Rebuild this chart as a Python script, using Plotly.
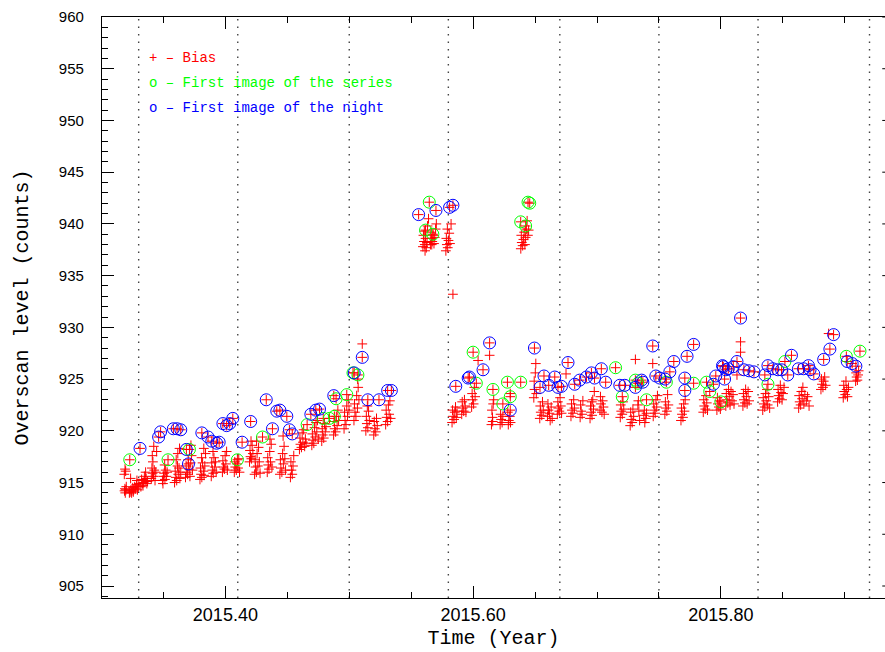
import plotly.graph_objects as go

# ---------------------------------------------------------------
# Overscan level of bias frames (time in decimal year, level in counts)
# ---------------------------------------------------------------

# Bias frames that are neither the first of a series nor of a night
bias_may = [
    (2015.3186, 914.2), (2015.3192, 914.0), (2015.3189, 914.4), (2015.3197, 914.3), (2015.3184, 915.8),
    (2015.3195, 916.1), (2015.3190, 916.3), (2015.3200, 914.6),
    (2015.3225, 914.0), (2015.3238, 914.3), (2015.3231, 914.1), (2015.3246, 914.2), (2015.3252, 914.5),
    (2015.3243, 914.0), (2015.3260, 914.3), (2015.3268, 914.6), (2015.3257, 914.1), (2015.3275, 914.4),
    (2015.3282, 914.8), (2015.3290, 914.3), (2015.3297, 914.6), (2015.3286, 915.2), (2015.3302, 914.9),
    (2015.3235, 915.4),
    (2015.3318, 914.6), (2015.3330, 914.9), (2015.3324, 915.3), (2015.3340, 915.0), (2015.3346, 915.6),
    (2015.3335, 914.7), (2015.3352, 915.2), (2015.3360, 915.4), (2015.3366, 914.9), (2015.3356, 916.0),
    (2015.3372, 915.1),
    (2015.3402, 915.4), (2015.3412, 915.9), (2015.3407, 916.4), (2015.3420, 915.6), (2015.3415, 917.0),
    (2015.3426, 916.2), (2015.3410, 917.6), (2015.3432, 915.2), (2015.3438, 916.0), (2015.3445, 918.0),
    (2015.3422, 918.5),
    (2015.3492, 915.2), (2015.3500, 915.6), (2015.3496, 914.9), (2015.3506, 915.9), (2015.3512, 915.3),
    (2015.3518, 916.2), (2015.3510, 916.7), (2015.3524, 915.6), (2015.3530, 916.0),
    (2015.3590, 915.0), (2015.3600, 915.5), (2015.3595, 916.1), (2015.3607, 915.2), (2015.3614, 916.6),
    (2015.3603, 917.2), (2015.3620, 915.8), (2015.3626, 916.4), (2015.3633, 915.4), (2015.3616, 917.8),
    (2015.3640, 916.0), (2015.3630, 918.3),
    (2015.3678, 915.5), (2015.3688, 916.0), (2015.3683, 916.6), (2015.3695, 915.8), (2015.3700, 917.2),
    (2015.3708, 916.3), (2015.3714, 915.6), (2015.3720, 916.9), (2015.3727, 917.6), (2015.3734, 916.2),
    (2015.3722, 918.6),
    (2015.3795, 915.3), (2015.3804, 915.8), (2015.3799, 916.4), (2015.3810, 915.5), (2015.3816, 916.9),
    (2015.3808, 917.4), (2015.3822, 916.1), (2015.3828, 915.7), (2015.3834, 916.6), (2015.3840, 917.8),
    (2015.3826, 918.3),
    (2015.3886, 915.6), (2015.3895, 916.2), (2015.3890, 916.9), (2015.3902, 915.9), (2015.3908, 917.4),
    (2015.3900, 918.0), (2015.3914, 916.5), (2015.3920, 917.0), (2015.3926, 916.0),
    (2015.3976, 916.0), (2015.3985, 916.5), (2015.3980, 917.1), (2015.3992, 916.3), (2015.3998, 917.6),
    (2015.4004, 916.8), (2015.4010, 918.0), (2015.4016, 916.2),
    (2015.4072, 916.0), (2015.4080, 916.5), (2015.4076, 917.0), (2015.4088, 916.2), (2015.4094, 916.8),
    (2015.4102, 916.4), (2015.4108, 917.3), (2015.4114, 916.0),
    (2015.4195, 917.0), (2015.4203, 917.5), (2015.4199, 918.1), (2015.4210, 917.3), (2015.4216, 918.6),
    (2015.4222, 917.8), (2015.4207, 919.0),
]

bias_jun = [
    (2015.4236, 915.8), (2015.4244, 916.5), (2015.4240, 917.2), (2015.4250, 916.0), (2015.4256, 917.8),
    (2015.4262, 916.6), (2015.4268, 918.4), (2015.4274, 917.0), (2015.4252, 919.0), (2015.4280, 915.9),
    (2015.4338, 916.0), (2015.4346, 916.7), (2015.4342, 917.4), (2015.4352, 916.3), (2015.4358, 918.0),
    (2015.4364, 917.0), (2015.4370, 918.7), (2015.4376, 916.5), (2015.4360, 919.2),
    (2015.4440, 915.8), (2015.4448, 916.4), (2015.4444, 917.2), (2015.4456, 916.0), (2015.4462, 917.8),
    (2015.4468, 916.8), (2015.4474, 918.5), (2015.4480, 917.3), (2015.4466, 919.5), (2015.4486, 916.2),
    (2015.4525, 915.5), (2015.4533, 916.2), (2015.4529, 917.0), (2015.4540, 915.8), (2015.4546, 916.6),
    (2015.4552, 917.6),
    (2015.4598, 918.2), (2015.4606, 918.7), (2015.4602, 919.3), (2015.4614, 918.4), (2015.4620, 919.8),
    (2015.4626, 918.9), (2015.4632, 920.1), (2015.4640, 918.5), (2015.4646, 919.2), (2015.4652, 918.8),
    (2015.4698, 918.6), (2015.4706, 919.1), (2015.4702, 919.7), (2015.4714, 918.8), (2015.4720, 920.3),
    (2015.4726, 919.4), (2015.4732, 920.8), (2015.4738, 919.9), (2015.4744, 921.0), (2015.4750, 919.2),
    (2015.4778, 919.0), (2015.4786, 919.6), (2015.4782, 920.2), (2015.4794, 919.3), (2015.4800, 920.7),
    (2015.4806, 919.9), (2015.4812, 920.4),
    (2015.4874, 919.6), (2015.4882, 920.2), (2015.4878, 920.9), (2015.4890, 919.9), (2015.4896, 921.4),
    (2015.4902, 920.5), (2015.4908, 922.0), (2015.4914, 921.0),
    (2015.4958, 920.2), (2015.4966, 921.0), (2015.4962, 921.8), (2015.4974, 920.6), (2015.4980, 922.4),
    (2015.4986, 921.4), (2015.4992, 923.0), (2015.4998, 922.0),
]

bias_jul = [
    (2015.5038, 921.0), (2015.5046, 921.8), (2015.5042, 922.6), (2015.5054, 921.4), (2015.5060, 923.4),
    (2015.5066, 922.2), (2015.5072, 924.2), (2015.5078, 923.0), (2015.5068, 925.0), (2015.5105, 928.4),
    (2015.5134, 920.0), (2015.5142, 920.7), (2015.5138, 921.4), (2015.5150, 920.3), (2015.5156, 921.9),
    (2015.5162, 921.0), (2015.5146, 922.4),
    (2015.5198, 919.6), (2015.5206, 920.2), (2015.5202, 920.9), (2015.5214, 919.9), (2015.5220, 921.2),
    (2015.5226, 920.5),
    (2015.5294, 920.6), (2015.5302, 921.3), (2015.5298, 922.0), (2015.5310, 920.9), (2015.5316, 922.5),
    (2015.5322, 921.6), (2015.5328, 922.9), (2015.5334, 921.2),
    (2015.5595, 937.8), (2015.5603, 938.3), (2015.5599, 938.9), (2015.5610, 938.0), (2015.5616, 938.6),
    (2015.5622, 937.7), (2015.5606, 939.3), (2015.5628, 938.2), (2015.5632, 939.8), (2015.5640, 940.5),
    (2015.5612, 937.4),
    (2015.5655, 938.0), (2015.5663, 938.6), (2015.5659, 939.2), (2015.5670, 938.3), (2015.5677, 938.9),
    (2015.5684, 938.1), (2015.5690, 938.7), (2015.5697, 939.5), (2015.5703, 940.0), (2015.5666, 938.0),
    (2015.5780, 937.4), (2015.5788, 938.0), (2015.5784, 938.6), (2015.5795, 937.7), (2015.5801, 938.4),
    (2015.5807, 939.1), (2015.5792, 939.5), (2015.5813, 938.1), (2015.5822, 940.0), (2015.5837, 933.2),
]

bias_aug = [
    (2015.5830, 920.8), (2015.5838, 921.4), (2015.5834, 922.0), (2015.5846, 921.1), (2015.5852, 921.8),
    (2015.5858, 922.3), (2015.5864, 921.3), (2015.5870, 921.9),
    (2015.5908, 921.6), (2015.5916, 922.2), (2015.5912, 922.8), (2015.5924, 921.9), (2015.5930, 923.0),
    (2015.5936, 922.4), (2015.5942, 921.8),
    (2015.5988, 922.3), (2015.5996, 923.0), (2015.5992, 923.6), (2015.6004, 922.6), (2015.6010, 924.2),
    (2015.6016, 923.3), (2015.6040, 926.8),
    (2015.6148, 920.6), (2015.6156, 921.3), (2015.6152, 922.0), (2015.6162, 922.6), (2015.6166, 923.0),
    (2015.6158, 920.9), (2015.6133, 927.3),
    (2015.6218, 920.6), (2015.6226, 921.1), (2015.6222, 921.6), (2015.6234, 920.8), (2015.6240, 921.4),
    (2015.6280, 921.8), (2015.6288, 921.0), (2015.6284, 920.6), (2015.6296, 921.4), (2015.6302, 920.8),
    (2015.6300, 923.6),
    (2015.6385, 937.6), (2015.6393, 938.2), (2015.6389, 938.9), (2015.6400, 937.9), (2015.6406, 938.5),
    (2015.6412, 939.2), (2015.6418, 938.0), (2015.6424, 938.7), (2015.6430, 939.5), (2015.6436, 940.3),
    (2015.6442, 938.9), (2015.6448, 939.4),
    (2015.6490, 923.2), (2015.6496, 924.0), (2015.6493, 924.8), (2015.6502, 925.6), (2015.6506, 926.5),
    (2015.6510, 923.6),
    (2015.6538, 921.2), (2015.6546, 921.8), (2015.6542, 922.4), (2015.6554, 921.5), (2015.6560, 922.8),
    (2015.6566, 922.0), (2015.6600, 921.4), (2015.6608, 922.0), (2015.6604, 922.6), (2015.6616, 921.7),
    (2015.6622, 921.0), (2015.6630, 922.3), (2015.6638, 921.2),
]

bias_sep = [
    (2015.6680, 921.6), (2015.6688, 922.2), (2015.6684, 922.8), (2015.6696, 921.9), (2015.6702, 923.2),
    (2015.6708, 922.4), (2015.6714, 921.7),
    (2015.6790, 921.4), (2015.6798, 922.0), (2015.6794, 922.6), (2015.6806, 921.7), (2015.6812, 923.0),
    (2015.6818, 922.2), (2015.6750, 925.5), (2015.6864, 921.3), (2015.6872, 921.9), (2015.6868, 922.5),
    (2015.6880, 921.6), (2015.6886, 922.9),
    (2015.6944, 921.2), (2015.6952, 921.8), (2015.6948, 922.4), (2015.6960, 921.5), (2015.6966, 923.0),
    (2015.6972, 922.1), (2015.6978, 923.8), (2015.6958, 922.8),
    (2015.7024, 922.0), (2015.7032, 922.6), (2015.7028, 923.3), (2015.7040, 921.8), (2015.7046, 922.9),
    (2015.7052, 922.3), (2015.7058, 921.6),
    (2015.7188, 921.3), (2015.7196, 921.9), (2015.7192, 922.5), (2015.7204, 921.6), (2015.7210, 922.8),
    (2015.7216, 922.1),
    (2015.7268, 920.5), (2015.7276, 921.1), (2015.7272, 921.8), (2015.7284, 920.8), (2015.7290, 922.1),
    (2015.7296, 921.4), (2015.7330, 922.5), (2015.7338, 921.9), (2015.7334, 922.9), (2015.7344, 921.0),
    (2015.7378, 921.5), (2015.7386, 920.8), (2015.7382, 922.0), (2015.7394, 921.2), (2015.7400, 921.7),
    (2015.7310, 926.9),
]

bias_oct = [
    (2015.7454, 921.4), (2015.7462, 922.0), (2015.7458, 922.6), (2015.7470, 921.7), (2015.7476, 923.0),
    (2015.7482, 922.3), (2015.7488, 923.4), (2015.7450, 926.5),
    (2015.7548, 921.6), (2015.7556, 922.2), (2015.7552, 922.8), (2015.7564, 921.9), (2015.7570, 923.5),
    (2015.7576, 922.5),
    (2015.7678, 921.0), (2015.7686, 921.6), (2015.7682, 922.2), (2015.7694, 921.3), (2015.7700, 922.6),
    (2015.7706, 921.9), (2015.7712, 923.0),
    (2015.7858, 921.8), (2015.7866, 922.4), (2015.7862, 923.0), (2015.7874, 922.1), (2015.7880, 923.4),
    (2015.7886, 922.7), (2015.7892, 922.0),
    (2015.7968, 922.0), (2015.7976, 922.6), (2015.7972, 923.2), (2015.7984, 922.3), (2015.7990, 922.9),
    (2015.7996, 922.1),
    (2015.8040, 922.4), (2015.8048, 923.0), (2015.8044, 923.6), (2015.8056, 922.7), (2015.8062, 924.0),
    (2015.8068, 923.3), (2015.8074, 922.5), (2015.8082, 923.8), (2015.8090, 922.9), (2015.8098, 923.5),
    (2015.8106, 922.6), (2015.8130, 925.4), (2015.8159, 928.6), (2015.8159, 927.6),
    (2015.8178, 922.4), (2015.8186, 923.0), (2015.8182, 923.6), (2015.8194, 922.7), (2015.8200, 924.0),
    (2015.8206, 923.3), (2015.8212, 922.6), (2015.8220, 923.8), (2015.8228, 922.9),
]

bias_nov = [
    (2015.8338, 922.0), (2015.8346, 922.6), (2015.8342, 923.2), (2015.8354, 922.3), (2015.8360, 923.6),
    (2015.8366, 922.9), (2015.8372, 924.0), (2015.8378, 922.5), (2015.8386, 923.3), (2015.8394, 922.2),
    (2015.8458, 922.8), (2015.8466, 923.4), (2015.8462, 924.0), (2015.8474, 923.1), (2015.8480, 924.4),
    (2015.8486, 923.7), (2015.8494, 923.0), (2015.8502, 923.6), (2015.8510, 924.2),
    (2015.8628, 922.2), (2015.8636, 922.8), (2015.8632, 923.4), (2015.8644, 922.5), (2015.8650, 923.8),
    (2015.8656, 923.1), (2015.8662, 924.2), (2015.8670, 922.6), (2015.8678, 923.5), (2015.8690, 922.9),
    (2015.8700, 923.3), (2015.8712, 922.4),
    (2015.8808, 924.0), (2015.8816, 924.5), (2015.8812, 925.0), (2015.8824, 924.2), (2015.8830, 924.8),
    (2015.8838, 925.2), (2015.8846, 924.4), (2015.8870, 929.4),
    (2015.8988, 923.2), (2015.8996, 923.8), (2015.8992, 924.4), (2015.9004, 923.5), (2015.9010, 924.8),
    (2015.9016, 924.0), (2015.9022, 923.3), (2015.9030, 924.2),
    (2015.9088, 924.8), (2015.9096, 925.2), (2015.9092, 925.6), (2015.9102, 924.9), (2015.9108, 925.4),
    (2015.9112, 925.8),
]

# First bias frame of each series
first_of_series = [
    (2015.3228, 917.2), (2015.3537, 917.2), (2015.3710, 918.2), (2015.4097, 917.2),
    (2015.4300, 919.4), (2015.4660, 920.6), (2015.4790, 921.2), (2015.4840, 921.2), (2015.4880, 921.4),
    (2015.4894, 923.1), (2015.4980, 923.5), (2015.5030, 925.6), (2015.5070, 925.4),
    (2015.5646, 942.1), (2015.5616, 939.4), (2015.5675, 939.0), (2015.6443, 942.1), (2015.6457, 942.0),
    (2015.6384, 940.2), (2015.6424, 939.8),
    (2015.6026, 924.6), (2015.6000, 927.6), (2015.6160, 924.0), (2015.6277, 924.7), (2015.6384, 924.7),
    (2015.6300, 923.3), (2015.6240, 922.6),
    (2015.7150, 926.1), (2015.7204, 923.3), (2015.7310, 924.9), (2015.7330, 924.6), (2015.7400, 923.0),
    (2015.7560, 924.7), (2015.7780, 924.6), (2015.7884, 924.7), (2015.7910, 923.8), (2015.8000, 922.8),
    (2015.8380, 924.5), (2015.8517, 926.7), (2015.9013, 927.2), (2015.9123, 927.7),
]

# First bias frame of each night
first_of_night = [
    (2015.3311, 918.3), (2015.3461, 919.4), (2015.3477, 919.9), (2015.3580, 920.2), (2015.3610, 920.2),
    (2015.3640, 920.1), (2015.3685, 918.2), (2015.3702, 916.8), (2015.3810, 919.8), (2015.3860, 919.4),
    (2015.3890, 919.0), (2015.3930, 918.8), (2015.3950, 918.9), (2015.3980, 920.7), (2015.4010, 920.5),
    (2015.4035, 920.7), (2015.4060, 921.2), (2015.4135, 918.9), (2015.4204, 920.9),
    (2015.4330, 923.0), (2015.4415, 921.9), (2015.4440, 922.0), (2015.4496, 921.4), (2015.4380, 920.2),
    (2015.4517, 920.1), (2015.4540, 919.7), (2015.4690, 921.6), (2015.4730, 922.0), (2015.4760, 922.1),
    (2015.4875, 923.4), (2015.5040, 925.6), (2015.5105, 927.1), (2015.5150, 923.0), (2015.5240, 923.0),
    (2015.5310, 923.9), (2015.5340, 923.9),
    (2015.5560, 940.9), (2015.5700, 941.3), (2015.5810, 941.6), (2015.5837, 941.8),
    (2015.5860, 924.3), (2015.5960, 925.1), (2015.5970, 925.2), (2015.6133, 928.5), (2015.6080, 925.9),
    (2015.6300, 922.0), (2015.6495, 928.0), (2015.6540, 924.2), (2015.6572, 925.3), (2015.6659, 925.2),
    (2015.6610, 924.4), (2015.6685, 924.2), (2015.6713, 924.3), (2015.6766, 926.6), (2015.6820, 924.5),
    (2015.6860, 924.9), (2015.6915, 925.2),
    (2015.6955, 925.6), (2015.6980, 925.1), (2015.7035, 926.0), (2015.7070, 924.7), (2015.7184, 924.4),
    (2015.7224, 924.4), (2015.7310, 924.2), (2015.7360, 924.9), (2015.7370, 924.7), (2015.7450, 928.2),
    (2015.7475, 925.3), (2015.7507, 925.1), (2015.7550, 925.0), (2015.7588, 925.7), (2015.7620, 926.7),
    (2015.7727, 927.2), (2015.7780, 928.35), (2015.7709, 925.1), (2015.7709, 923.9), (2015.7940, 924.5),
    (2015.7959, 925.3), (2015.8013, 926.3), (2015.8040, 925.9), (2015.8159, 930.9), (2015.8020, 926.2),
    (2015.8060, 926.0), (2015.8100, 926.2), (2015.8130, 926.7), (2015.8186, 925.9), (2015.8227, 925.8),
    (2015.8267, 925.7), (2015.8030, 925.0), (2015.8355, 925.4), (2015.8380, 926.3), (2015.8420, 926.0),
    (2015.8460, 925.9), (2015.8490, 925.9), (2015.8540, 925.4), (2015.8570, 927.3), (2015.8626, 926.0),
    (2015.8667, 926.0), (2015.8707, 926.3), (2015.8720, 925.9), (2015.8750, 925.5), (2015.8830, 926.9),
    (2015.8880, 927.9), (2015.8910, 929.3), (2015.9020, 926.7), (2015.9060, 926.5), (2015.9090, 926.25),
]

# Month boundaries (decimal year)
month_starts = [2015.33, 2015.41, 2015.50, 2015.58, 2015.67, 2015.75, 2015.83, 2015.92]

# Axis ticks
x_major = [2015.3, 2015.4, 2015.5, 2015.6, 2015.7, 2015.8, 2015.9]
x_labels = ["", "2015.40", "", "2015.60", "", "2015.80", ""]
y_major = [905, 910, 915, 920, 925, 930, 935, 940, 945, 950, 955, 960]

legend_lines = [
    ("+ \u2013 Bias", "#ff0000"),
    ("o \u2013 First image of the series", "#00ff00"),
    ("o \u2013 First image of the night", "#0000ff"),
]

# ---------------------------------------------------------------
def unzip(points):
    return [p[0] for p in points], [p[1] for p in points]

other_bias = bias_may + bias_jun + bias_jul + bias_aug + bias_sep + bias_oct + bias_nov
# every marked frame is also a bias frame, so it carries a cross too
all_bias = other_bias + first_of_series + first_of_night

bx, by = unzip(all_bias)
sx, sy = unzip(first_of_series)
nx, ny = unzip(first_of_night)

fig = go.Figure()
fig.add_trace(go.Scatter(
    x=bx, y=by, mode="markers", name="Bias",
    marker=dict(symbol="cross-thin", size=7, color="#ff0000",
                line=dict(color="#ff0000", width=1)),
))
fig.add_trace(go.Scatter(
    x=sx, y=sy, mode="markers", name="First image of the series",
    marker=dict(symbol="circle-open", size=12, color="#00ff00",
                line=dict(color="#00ff00", width=1)),
))
fig.add_trace(go.Scatter(
    x=nx, y=ny, mode="markers", name="First image of the night",
    marker=dict(symbol="circle-open", size=12, color="#0000ff",
                line=dict(color="#0000ff", width=1)),
))

# dotted month separators
for m in month_starts:
    fig.add_shape(type="line", xref="x", yref="paper", x0=m, x1=m, y0=0, y1=1,
                  line=dict(color="#444444", width=1.4, dash="1.5px,6px"), layer="below")

# right-hand tick stubs (frame edge lies just outside the page)
for v in y_major:
    fig.add_shape(type="line", xref="paper", yref="y", x0=0.9965, x1=1.0, y0=v, y1=v,
                  line=dict(color="black", width=1))

# legend text
for i, (txt, col) in enumerate(legend_lines):
    fig.add_annotation(xref="paper", yref="paper", x=0.0575, y=0.9294 - i * 0.043,
                       xanchor="left", yanchor="middle", showarrow=False, text=txt,
                       font=dict(family="Liberation Mono", size=14, color=col))

x_minor = [round(2015.30 + 0.05 * i, 2) for i in range(14)]

fig.update_layout(
    width=885, height=652,
    margin=dict(l=102, r=0, t=17, b=54),
    plot_bgcolor="white", paper_bgcolor="white",
    showlegend=False,
    xaxis=dict(
        range=[2015.3004, 2015.9325],
        tickmode="array", tickvals=x_major, ticktext=x_labels,
        ticks="inside", ticklen=12, tickwidth=1, tickcolor="black",
        minor=dict(tickmode="array", tickvals=x_minor, ticks="inside", ticklen=6,
                   tickwidth=1, tickcolor="black", showgrid=False),
        showline=True, linecolor="black", linewidth=1.3, mirror="allticks",
        showgrid=False, zeroline=False, automargin=False,
        tickfont=dict(family="Liberation Sans", size=18, color="black"),
        title=dict(text="Time (Year)", standoff=6,
                   font=dict(family="Liberation Mono", size=20, color="black")),
    ),
    yaxis=dict(
        range=[903.84, 960],
        tickmode="array", tickvals=y_major,
        ticks="inside", ticklen=12, tickwidth=1, tickcolor="black",
        minor=dict(dtick=1, tick0=900, ticks="inside", ticklen=6,
                   tickwidth=1, tickcolor="black", showgrid=False),
        showline=True, linecolor="black", linewidth=1.3, mirror=False,
        showgrid=False, zeroline=False, automargin=False,
        ticklabelstandoff=14,
        tickfont=dict(family="Liberation Sans", size=15, color="black"),
        title=dict(text="Overscan level (counts)", standoff=24,
                   font=dict(family="Liberation Mono", size=20, color="black")),
    ),
)

fig.write_html("out.html")
